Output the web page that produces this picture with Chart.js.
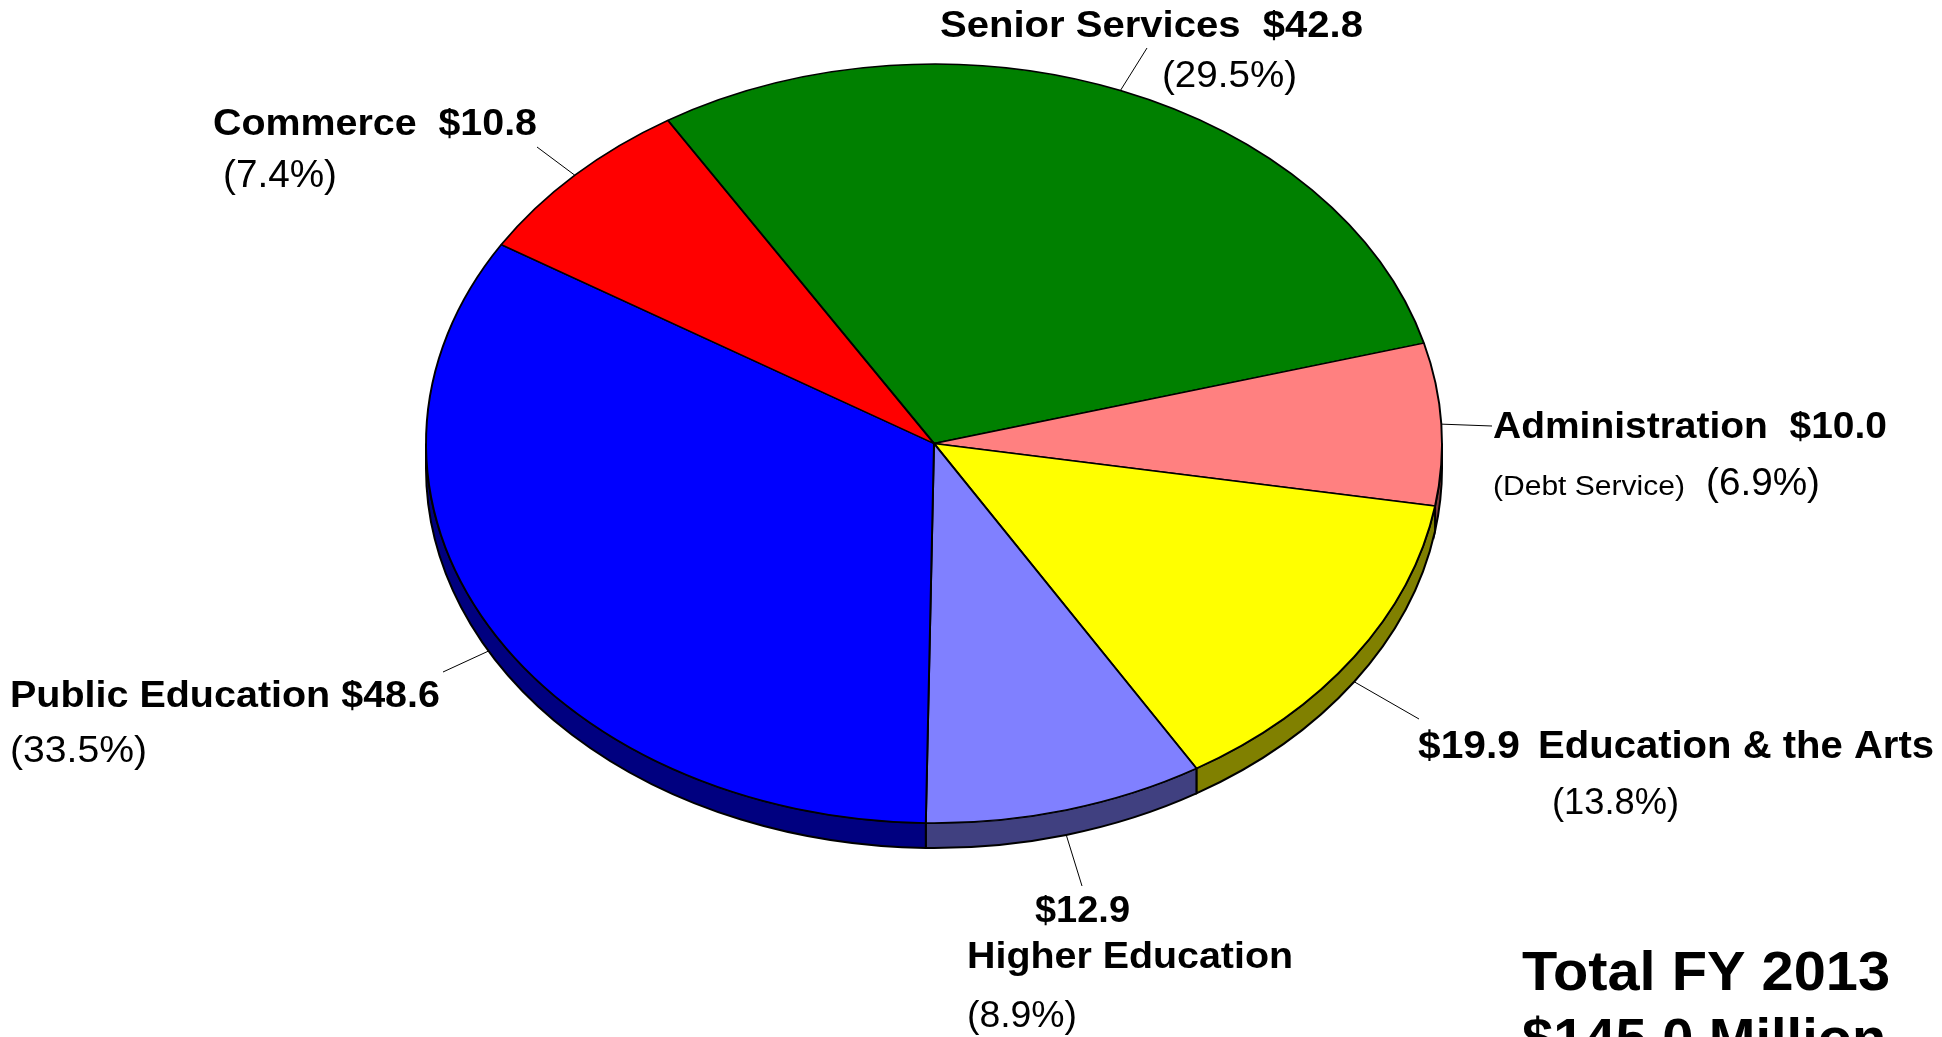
<!DOCTYPE html>
<html lang="en">
<head>
    <meta charset="UTF-8">
    <title>Total FY 2013 $145.0 Million</title>
    <script src="https://cdn.jsdelivr.net/npm/chart.js"></script>
    <style>
        body {
            margin: 0;
            background-color: #ffffff;
        }
        .chart-container {
            width: 1942px;
            height: 1037px;
            overflow: hidden;
        }
    </style>
</head>
<body>
    <div class="chart-container">
        <canvas id="budgetPie" width="1942" height="1037"></canvas>
    </div>
    <script>
        // values in $ millions, clockwise from the top-left
        const categories = ['Senior Services', 'Administration', 'Education & the Arts', 'Higher Education', 'Public Education', 'Commerce'];
        const amounts = [42.8, 10.0, 19.9, 12.9, 48.6, 10.8];
        const percents = ['29.5%', '6.9%', '13.8%', '8.9%', '33.5%', '7.4%'];
        const totalLines = ['Total FY 2013', '$145.0 Million'];

        const topColors = ['#008000', '#ff8080', '#ffff00', '#8080ff', '#0000ff', '#ff0000'];
        const sideColors = ['#004000', '#804040', '#808000', '#404080', '#000080', '#800000'];

        // where the tilted pie sits on the page
        const geom = { cx: 934, cy: 443.5, rx: 508, ry: 379.5, depth: 25 };

        const FONT = "'Liberation Sans', Arial, sans-serif";
        const money = v => '$' + v.toFixed(1);

        // label lines: [text, bold, size, x, baseline, width]
        const labelLayout = [
            { lines: [[categories[0] + '  ' + money(amounts[0]), true, 36, 940, 37, 423], ['(' + percents[0] + ')', false, 37, 1162, 87, 135]], end: [1147, 48] },
            { lines: [[categories[1] + '  ' + money(amounts[1]), true, 37, 1493, 438, 394], ['(Debt Service)', false, 27, 1493, 495, 192], ['(' + percents[1] + ')', false, 38, 1706, 495, 114]], end: [1492, 426] },
            { lines: [[money(amounts[2]), true, 38, 1418, 758, 102], [categories[2], true, 38, 1538, 758, 396], ['(' + percents[2] + ')', false, 37, 1552, 814, 127]], end: [1419, 719] },
            { lines: [[money(amounts[3]), true, 37, 1035, 922, 95], [categories[3], true, 37, 967, 968, 326], ['(' + percents[3] + ')', false, 37, 967, 1027, 110]], end: [1082, 886] },
            { lines: [[categories[4] + ' ' + money(amounts[4]), true, 37, 10, 707, 430], ['(' + percents[4] + ')', false, 37, 10, 762, 137]], end: [443, 672] },
            { lines: [[categories[5] + '  ' + money(amounts[5]), true, 37, 213, 135, 324], ['(' + percents[5] + ')', false, 38, 223, 187, 114]], end: [537, 147] }
        ];

        function fitText(ctx, text, bold, size, x, y, width) {
            ctx.save();
            ctx.font = (bold ? 'bold ' : '') + size + 'px ' + FONT;
            const w = ctx.measureText(text).width;
            ctx.translate(x, y);
            if (width) ctx.scale(width / w, 1);
            ctx.fillText(text, 0, 0);
            ctx.restore();
        }

        const pie3d = {
            id: 'pie3d',
            beforeDatasetsDraw(chart) {
                const ctx = chart.ctx;
                const meta = chart.getDatasetMeta(0);
                const a0 = meta.data[0];
                const R = a0.outerRadius;

                // side wall, only the front (lower) half shows
                ctx.save();
                ctx.lineWidth = 2;
                ctx.strokeStyle = '#000';
                meta.data.forEach((arc, i) => {
                    [-2 * Math.PI, 0, 2 * Math.PI].forEach(k => {
                        const s = Math.max(arc.startAngle + k, 0);
                        const e = Math.min(arc.endAngle + k, Math.PI);
                        if (e <= s) return;
                        ctx.beginPath();
                        ctx.ellipse(geom.cx, geom.cy, geom.rx, geom.ry, 0, s, e, false);
                        ctx.ellipse(geom.cx, geom.cy + geom.depth, geom.rx, geom.ry, 0, e, s, true);
                        ctx.closePath();
                        ctx.fillStyle = sideColors[i];
                        ctx.fill();
                        ctx.stroke();
                    });
                });
                ctx.restore();

                // squash the round pie into the tilted ellipse
                ctx.save();
                ctx.translate(geom.cx, geom.cy);
                ctx.scale(geom.rx / R, geom.ry / R);
                ctx.translate(-a0.x, -a0.y);
            },
            afterDatasetsDraw(chart) {
                chart.ctx.restore();
            },
            afterDraw(chart) {
                const ctx = chart.ctx;
                const meta = chart.getDatasetMeta(0);
                ctx.save();
                ctx.fillStyle = '#000';
                ctx.strokeStyle = '#000';
                ctx.lineWidth = 1;
                meta.data.forEach((arc, i) => {
                    const mid = (arc.startAngle + arc.endAngle) / 2;
                    const sin = Math.sin(mid);
                    const x0 = geom.cx + geom.rx * Math.cos(mid);
                    const y0 = geom.cy + geom.ry * sin + (sin > 0 ? geom.depth : 0);
                    const lab = labelLayout[i];
                    ctx.beginPath();
                    ctx.moveTo(x0, y0);
                    ctx.lineTo(lab.end[0], lab.end[1]);
                    ctx.stroke();
                    lab.lines.forEach(l => fitText(ctx, l[0], l[1], l[2], l[3], l[4], l[5]));
                });
                fitText(ctx, totalLines[0], true, 56, 1522, 990, 368);
                fitText(ctx, totalLines[1], true, 56, 1522, 1057, 0);
                ctx.restore();
            }
        };

        new Chart(document.getElementById('budgetPie').getContext('2d'), {
            type: 'pie',
            data: {
                labels: categories,
                datasets: [{
                    data: amounts,
                    backgroundColor: topColors,
                    borderColor: '#000000',
                    borderWidth: 2
                }]
            },
            options: {
                responsive: false,
                animation: false,
                events: [],
                rotation: -31.6,
                plugins: {
                    legend: { display: false },
                    tooltip: { enabled: false }
                }
            },
            plugins: [pie3d]
        });
    </script>
</body>
</html>
